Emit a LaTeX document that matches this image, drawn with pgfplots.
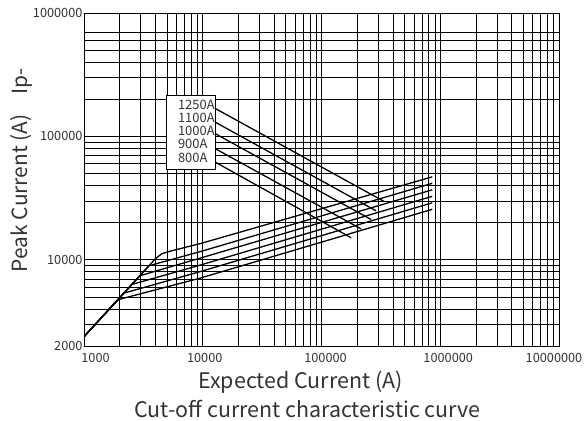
\documentclass[border=0pt]{standalone}
\usepackage{pgfplots}
\pgfplotsset{compat=1.18}
\usepackage{fontspec}
\setmainfont{Noto Sans CJK SC}
\definecolor{txt}{HTML}{333333}
\newcommand\xs[2]{\makebox[0pt]{\hspace{#1}\hspace{#1}#2}}
\begin{document}
\begin{tikzpicture}
\path[use as bounding box] (-84bp,-75bp) rectangle (500bp,346bp);
\begin{axis}[
  at={(0,0)}, anchor=south west,
  width=475bp, height=333bp, scale only axis,
  xmode=log, ymode=log,
  xmin=1000, xmax=10000000, ymin=2000, ymax=1000000,
  xtick={1000,10000,100000,1000000,10000000},
  xticklabels={\xs{11.5bp}{1000},\xs{2bp}{10000},\xs{4bp}{100000},\xs{8bp}{1000000},\xs{-5bp}{10000000}},
  ytick={2000,10000,100000,1000000},
  yticklabels={2000,10000,100000,\raisebox{-3bp}{1000000}},
  minor xtick={2000,3000,4000,5000,6000,7000,8000,9000,
    20000,30000,40000,50000,60000,70000,80000,90000,
    200000,300000,400000,500000,600000,700000,800000,900000,
    2000000,3000000,4000000,5000000,6000000,7000000,8000000,9000000},
  minor ytick={3000,4000,5000,6000,7000,8000,9000,
    20000,30000,40000,50000,60000,70000,80000,90000,
    200000,300000,400000,500000,600000,700000},
  grid=both,
  major grid style={black, line width=0.6bp},
  minor grid style={black, line width=0.6bp},
  major tick length=0pt, minor tick length=0pt,
  axis line style={black, line width=0.8bp},
  ticklabel style={font=\fontsize{12.8}{14}\selectfont, text=txt},
  xticklabel style={yshift=-4bp},
  yticklabel style={xshift=2bp},
  xlabel={Expected Current (A)},
  xlabel style={at={(axis description cs:0.4558,-0.1291)}, anchor=base, font=\fontsize{21.5}{24}\selectfont, text=txt},
  ylabel={Peak Current (A)\hspace{20bp}Ip-},
  ylabel style={at={(axis description cs:-0.1179,0.5285)}, anchor=base, font=\fontsize{21}{24}\selectfont, text=txt},
  title={Cut-off current characteristic curve},
  title style={at={(axis description cs:0.4705,-0.2312)}, anchor=base, font=\fontsize{21.5}{24}\selectfont, text=txt},
]
% rising curves (top to bottom)
\addplot[black, line width=1.3bp, no marks] coordinates {(1000,2380)(4027,10284)(4523,11184)(5280,11717)(9437,13480)(856600,46990)};
\addplot[black, line width=1.3bp, no marks] coordinates {(1000,2380)(3517,8941)(9437,11610)(856600,41640)};
\addplot[black, line width=1.3bp, no marks] coordinates {(1000,2380)(2955,7420)(9437,10284)(856600,36880)};
\addplot[black, line width=1.3bp, no marks] coordinates {(1000,2380)(2531,6310)(9437,9026)(856600,32670)};
\addplot[black, line width=1.3bp, no marks] coordinates {(1000,2380)(2168,5365)(9437,7998)(856600,28940)};
\addplot[black, line width=1.3bp, no marks] coordinates {(1000,2380)(1931,4744)(9437,7082)(856600,25640)};
% descending lines (1250A ... 800A)
\addplot[black, line width=1.3bp, no marks] coordinates {(12614,169200)(338300,29600)};
\addplot[black, line width=1.3bp, no marks] coordinates {(12614,131000)(288200,24930)};
\addplot[black, line width=1.3bp, no marks] coordinates {(12614,105750)(261600,21200)};
\addplot[black, line width=1.3bp, no marks] coordinates {(12614,79940)(215600,17760)};
\addplot[black, line width=1.3bp, no marks] coordinates {(12614,62170)(177700,15070)};
% label box
\draw[fill=white, line width=1bp] (axis cs:4955,212800) rectangle (axis cs:12780,54260);
\node[anchor=west, inner sep=0pt, text=txt, font=\fontsize{13}{15}\selectfont] at (axis cs:6166,179900) {1250A};
\node[anchor=west, inner sep=0pt, text=txt, font=\fontsize{13}{15}\selectfont] at (axis cs:6166,140900) {1100A};
\node[anchor=west, inner sep=0pt, text=txt, font=\fontsize{13}{15}\selectfont] at (axis cs:6166,110400) {1000A};
\node[anchor=west, inner sep=0pt, text=txt, font=\fontsize{13}{15}\selectfont] at (axis cs:6166,86500) {900A};
\node[anchor=west, inner sep=0pt, text=txt, font=\fontsize{13}{15}\selectfont] at (axis cs:6166,66970) {800A};
\end{axis}
\end{tikzpicture}
\end{document}
